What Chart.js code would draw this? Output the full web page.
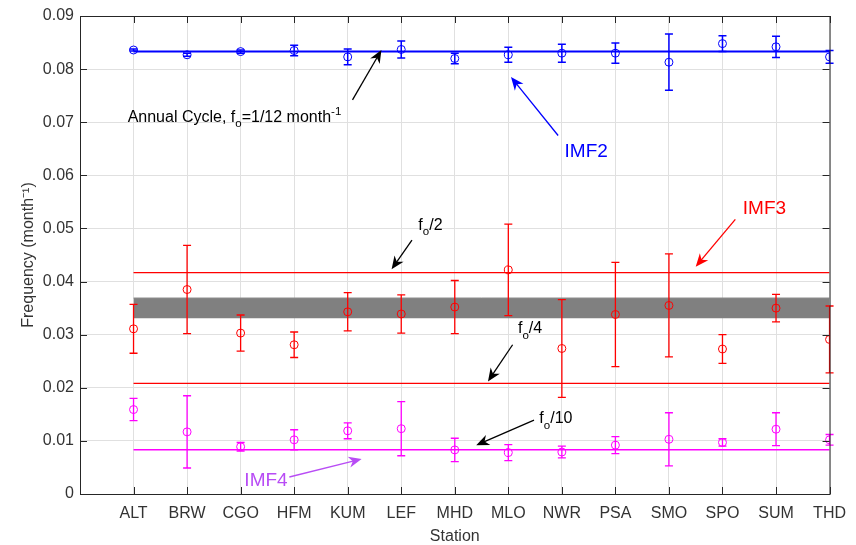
<!DOCTYPE html>
<html>
<head>
<meta charset="utf-8">
<style>
  body { margin: 0; background: #fff; }
  .wrap { width: 856px; height: 545px; }
</style>
</head>
<body>
<div class="wrap"><canvas id="freqChart"></canvas></div>
<script src="https://cdn.jsdelivr.net/npm/chart.js"></script>
<script>
const stations = ['ALT','BRW','CGO','HFM','KUM','LEF','MHD','MLO','NWR','PSA','SMO','SPO','SUM','THD'];

// IMF2 (annual)
const imf2 = [0.0836,0.0827,0.0833,0.0835,0.0823,0.0837,0.0820,0.0827,0.0830,0.0830,0.0813,0.0848,0.0842,0.0823];
const imf2Err = [0.0002,0.0003,0.0003,0.0010,0.0015,0.0016,0.0010,0.0014,0.0017,0.0019,0.0053,0.0015,0.0020,0.0012];
// IMF3
const imf3 = [0.0311,0.0385,0.0303,0.0281,0.0343,0.0339,0.0352,0.0422,0.0274,0.0338,0.0355,0.0273,0.0350,0.0291];
const imf3Err = [0.0046,0.0083,0.0034,0.0024,0.0036,0.0036,0.0050,0.0086,0.0092,0.0098,0.0097,0.0027,0.0026,0.0063];
// IMF4
const imf4 = [0.0159,0.0117,0.0089,0.0102,0.0119,0.0123,0.0083,0.0078,0.0079,0.0092,0.0103,0.0097,0.0122,0.0102];
const imf4Err = [0.0021,0.0068,0.0008,0.0019,0.0015,0.0051,0.0022,0.0015,0.0011,0.0016,0.0050,0.0007,0.0031,0.0010];

// reference frequencies: fo, fo/2, fo/4, fo/10
const fo = 0.08333, fo2 = 0.04167, fo4 = 0.02083, fo10 = 0.00833;
const band = [0.0331, 0.0369];

const yTicks = [0, 0.01, 0.02, 0.03, 0.04, 0.05, 0.06, 0.07, 0.08, 0.09];

const BLUE = '#0000ff', RED = '#ff0000', MAG = '#ff00ff', PURPLE = '#b84cf5', AXIS = '#262626';
const FONT = '"Liberation Sans", Arial, sans-serif';

const pts = (vals) => vals.map((v, i) => ({ x: i + 1, y: v }));
const hline = (v) => [{ x: 1, y: v }, { x: stations.length, y: v }];

// annotation text + arrows (in data coords)
const notes = [
  { parts: [['Annual Cycle, f'], ['o', 'sub'], ['=1/12 month'], ['-1', 'sup']], at: [0.89, 0.0701], size: 16, color: '#000',
    arrow: [[5.09, 0.0742], [5.63, 0.0836]] },
  { parts: [['IMF2']], at: [9.05, 0.0635], size: 19, color: BLUE, arrow: [[8.93, 0.0675], [8.05, 0.0785]] },
  { parts: [['f'], ['o', 'sub'], ['/2']], at: [6.32, 0.0498], size: 16, color: '#000', arrow: [[6.2, 0.0478], [5.82, 0.0423]] },
  { parts: [['IMF3']], at: [12.38, 0.0528], size: 19, color: RED, arrow: [[12.24, 0.0517], [11.5, 0.0428]] },
  { parts: [['f'], ['o', 'sub'], ['/4']], at: [8.18, 0.0303], size: 16, color: '#000', arrow: [[8.08, 0.0281], [7.62, 0.0212]] },
  { parts: [['f'], ['o', 'sub'], ['/10']], at: [8.58, 0.0133], size: 16, color: '#000', arrow: [[8.48, 0.0139], [7.4, 0.0092]] },
  { parts: [['IMF4']], at: [3.07, 0.0015], size: 19, color: PURPLE, arrow: [[3.91, 0.0032], [5.26, 0.0066]] }
];

function drawArrow(ctx, x1, y1, x2, y2, color) {
  const ang = Math.atan2(y2 - y1, x2 - x1);
  const L = 13, W = 5.5;
  ctx.save();
  ctx.strokeStyle = color;
  ctx.fillStyle = color;
  ctx.lineWidth = 1.3;
  ctx.beginPath();
  ctx.moveTo(x1, y1);
  ctx.lineTo(x2 - Math.cos(ang) * L * 0.6, y2 - Math.sin(ang) * L * 0.6);
  ctx.stroke();
  ctx.translate(x2, y2);
  ctx.rotate(ang);
  ctx.beginPath();
  ctx.moveTo(0, 0);
  ctx.lineTo(-L, -W);
  ctx.lineTo(-L * 0.7, 0);
  ctx.lineTo(-L, W);
  ctx.closePath();
  ctx.fill();
  ctx.restore();
}

function drawRich(ctx, x, y, parts, size, color) {
  ctx.save();
  ctx.fillStyle = color;
  ctx.textBaseline = 'alphabetic';
  ctx.textAlign = 'left';
  let cx = x;
  parts.forEach(([t, kind]) => {
    let fs = size, dy = 0;
    if (kind === 'sub') { fs = size * 0.72; dy = size * 0.35; }
    if (kind === 'sup') { fs = size * 0.72; dy = -size * 0.42; }
    ctx.font = fs + 'px ' + FONT;
    ctx.fillText(t, cx, y + dy);
    cx += ctx.measureText(t).width;
  });
  ctx.restore();
}

const extras = {
  id: 'extras',
  afterDatasetsDraw(chart) {
    const { ctx, scales: { x, y } } = chart;
    const sets = [[imf2, imf2Err, BLUE, 1.5], [imf3, imf3Err, RED, 1.3], [imf4, imf4Err, MAG, 1.3]];
    ctx.save();
    sets.forEach(([vals, errs, color, lw]) => {
      ctx.strokeStyle = color;
      ctx.lineWidth = lw;
      vals.forEach((v, i) => {
        const px = x.getPixelForValue(i + 1);
        const top = y.getPixelForValue(v + errs[i]);
        const bot = y.getPixelForValue(v - errs[i]);
        ctx.beginPath();
        ctx.moveTo(px, top); ctx.lineTo(px, bot);
        ctx.moveTo(px - 4, top); ctx.lineTo(px + 4, top);
        ctx.moveTo(px - 4, bot); ctx.lineTo(px + 4, bot);
        ctx.stroke();
      });
    });
    ctx.restore();
  },
  afterDraw(chart) {
    const { ctx, chartArea: a, scales: { x, y } } = chart;
    ctx.save();
    ctx.strokeStyle = AXIS;
    ctx.lineWidth = 1;
    ctx.strokeRect(a.left + 0.5, a.top + 0.5, a.right - a.left, a.bottom - a.top);
    ctx.beginPath();
    for (let i = 1; i <= stations.length; i++) {
      const px = Math.round(x.getPixelForValue(i)) + 0.5;
      ctx.moveTo(px, a.bottom); ctx.lineTo(px, a.bottom - 7);
      ctx.moveTo(px, a.top); ctx.lineTo(px, a.top + 7);
    }
    yTicks.forEach(v => {
      const py = Math.round(y.getPixelForValue(v)) + 0.5;
      ctx.moveTo(a.left, py); ctx.lineTo(a.left + 7, py);
      ctx.moveTo(a.right, py); ctx.lineTo(a.right - 7, py);
    });
    ctx.stroke();
    ctx.restore();

    notes.forEach(n => {
      const [t, h] = n.arrow;
      drawArrow(ctx, x.getPixelForValue(t[0]), y.getPixelForValue(t[1]),
        x.getPixelForValue(h[0]), y.getPixelForValue(h[1]), n.color);
      drawRich(ctx, x.getPixelForValue(n.at[0]), y.getPixelForValue(n.at[1]), n.parts, n.size, n.color);
    });
  }
};

new Chart(document.getElementById('freqChart'), {
  type: 'line',
  data: {
    datasets: [
      { data: hline(band[0]), borderWidth: 0, pointRadius: 0, fill: false, order: 10 },
      { data: hline(band[1]), borderColor: '#8c8c8c', borderWidth: 1, pointRadius: 0, fill: '-1', backgroundColor: '#808080', order: 10 },
      { data: hline(fo), borderColor: BLUE, borderWidth: 2, pointRadius: 0, order: 5 },
      { data: hline(fo2), borderColor: RED, borderWidth: 1.3, pointRadius: 0, order: 5 },
      { data: hline(fo4), borderColor: RED, borderWidth: 1.3, pointRadius: 0, order: 5 },
      { data: hline(fo10), borderColor: MAG, borderWidth: 1.5, pointRadius: 0, order: 5 },
      { label: 'IMF2', data: pts(imf2), showLine: false, pointRadius: 4, borderColor: BLUE, backgroundColor: 'transparent', pointBorderWidth: 1, order: 1 },
      { label: 'IMF3', data: pts(imf3), showLine: false, pointRadius: 4, borderColor: RED, backgroundColor: 'transparent', pointBorderWidth: 1, order: 1 },
      { label: 'IMF4', data: pts(imf4), showLine: false, pointRadius: 4, borderColor: MAG, backgroundColor: 'transparent', pointBorderWidth: 1, order: 1 }
    ]
  },
  options: {
    responsive: true,
    maintainAspectRatio: false,
    animation: false,
    layout: { padding: { top: 16, right: 22, left: 0, bottom: 0 } },
    plugins: { legend: { display: false }, tooltip: { enabled: false } },
    scales: {
      x: {
        type: 'linear',
        min: 0,
        max: stations.length,
        grid: { color: '#e0e0e0', drawTicks: false },
        border: { display: true, color: AXIS },
        afterFit: (s) => { s.height = 51; },
        ticks: {
          stepSize: 1,
          autoSkip: false,
          maxRotation: 0,
          padding: 10,
          color: '#333',
          font: { family: FONT, size: 16 },
          callback: (v) => stations[v - 1] || ''
        },
        title: { display: true, text: 'Station', color: '#333', padding: 0, font: { family: FONT, size: 16, lineHeight: 1 } }
      },
      y: {
        min: 0,
        max: 0.09,
        grid: { color: '#e0e0e0', drawTicks: false },
        border: { display: true, color: AXIS },
        afterFit: (s) => { s.width = 80; },
        afterBuildTicks: (s) => { s.ticks = yTicks.map(v => ({ value: v })); },
        ticks: {
          padding: 6,
          color: '#333',
          font: { family: FONT, size: 16 },
          callback: (v) => v === 0 ? '0' : v.toFixed(2)
        },
        title: { display: true, text: 'Frequency (month⁻¹)', color: '#333', padding: { top: 21, bottom: 0 }, font: { family: FONT, size: 16, lineHeight: 1 } }
      }
    }
  },
  plugins: [extras]
});
</script>
</body>
</html>
